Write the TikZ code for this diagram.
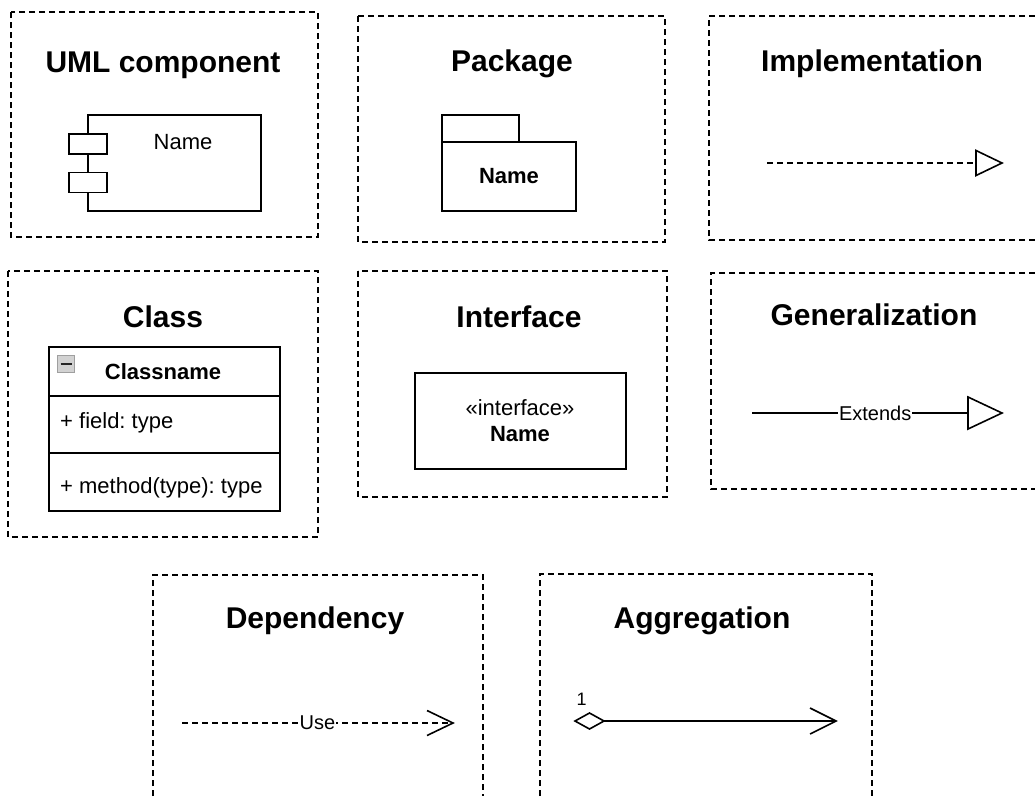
\documentclass[tikz,border=0pt]{standalone}
\usepackage{fontspec}
\setmainfont{Liberation Sans}
\frenchspacing
\begin{document}
\begin{tikzpicture}[x=1pt,y=1pt,
  panel/.style={black,line width=1.5pt,dash pattern=on 6pt off 4pt},
  dashline/.style={black,line width=1.4pt,dash pattern=on 6pt off 4pt},
  solidline/.style={black,line width=1.6pt},
  umlbox/.style={draw=black,line width=1.6pt,outer sep=0pt},
  title/.style={anchor=base,font=\fontsize{30}{36}\selectfont\bfseries},
  txt/.style={anchor=base,font=\fontsize{22}{26}\selectfont},
  txtb/.style={anchor=base,font=\fontsize{22}{26}\selectfont\bfseries},
  lbl/.style={fill=white,inner sep=1pt,font=\fontsize{20}{24}\selectfont}]
\tikzstyle{every node}+=[inner sep=0pt]
\useasboundingbox (0,0) rectangle (1035,-796);
% dashed frames
\draw [panel] (11,-12) rectangle (318,-237);
\draw [panel] (358,-16) rectangle (665,-242);
\draw [panel] (1035,-16) -- (709,-16) -- (709,-240) -- (1035,-240);
\draw [panel] (8,-271) rectangle (318,-537);
\draw [panel] (358,-271) rectangle (667,-497);
\draw [panel] (1035,-273) -- (711,-273) -- (711,-489) -- (1035,-489);
\draw [panel] (153,-796) -- (153,-575) -- (483,-575) -- (483,-796);
\draw [panel] (540,-796) -- (540,-574) -- (872,-574) -- (872,-796);
% titles
\node [title] (t-comp) at (163,-72) {UML component};
\node [title] (t-pkg) at (512,-71) {Package};
\node [title] (t-impl) at (872,-71) {Implementation};
\node [title] (t-cls) at (163,-327) {Class};
\node [title] (t-iface) at (519,-327) {Interface};
\node [title] (t-gen) at (874,-325) {Generalization};
\node [title] (t-dep) at (315,-628) {Dependency};
\node [title] (t-agg) at (702,-628) {Aggregation};
% component
\node [umlbox,minimum width=173pt,minimum height=96pt] (comp) at (174.5,-163) {};
\node [umlbox,fill=white,minimum width=38pt,minimum height=20pt] (port1) at (88,-144) {};
\node [umlbox,fill=white,minimum width=38pt,minimum height=20pt] (port2) at (88,-182.5) {};
\node [txt] (comp-name) at (183,-149) {Name};
% package
\node [umlbox,minimum width=134pt,minimum height=69pt,font=\fontsize{22}{26}\selectfont\bfseries] (pkg) at (509,-176.5) {Name};
\node [umlbox,minimum width=77pt,minimum height=27pt,anchor=south west] (pkg-tab) at (pkg.north west) {};
% implementation
\coordinate (impl-a) at (767,-163);
\coordinate (impl-b) at (976,-163);
\draw [dashline] (impl-a) -- (impl-b);
\draw [solidline] (impl-b) -- ++(0,12.5) -- ++(26,-12.5) -- ++(-26,-12.5) -- cycle;
% class
\node [umlbox,minimum width=231pt,minimum height=49pt] (cls-head) at (164.5,-371.5) {};
\node [umlbox,minimum width=231pt,minimum height=57pt,anchor=north] (cls-field) at (cls-head.south) {};
\node [umlbox,minimum width=231pt,minimum height=58pt,anchor=north] (cls-meth) at (cls-field.south) {};
\node [draw=gray!75,fill=gray!35,line width=0.8pt,minimum size=17pt] (cls-icon) at (66,-364) {};
\draw [black!85,line width=2.5pt] ([xshift=-5.5pt]cls-icon.center) -- ([xshift=5.5pt]cls-icon.center);
\node [txtb] (cls-name) at (163,-379) {Classname};
\node [txt,anchor=base west] (cls-f) at (60,-428) {+ field: type};
\node [txt,anchor=base west] (cls-m) at (60,-493) {+ method(type): type};
% interface
\node [umlbox,minimum width=211pt,minimum height=96pt] (iface) at (520.5,-421) {};
\node [txt] (iface-st) at (520,-415) {«interface»};
\node [txtb] (iface-name) at (520,-441) {Name};
% generalization
\coordinate (gen-a) at (752,-413);
\coordinate (gen-b) at (968,-413);
\draw [solidline] (gen-a) -- node [lbl,pos=0.57] (gen-lbl) {Extends} (gen-b);
\draw [solidline] (gen-b) -- ++(0,16) -- ++(34,-16) -- ++(-34,-16) -- cycle;
% dependency
\coordinate (dep-a) at (182,-723);
\coordinate (dep-b) at (453,-723);
\draw [dashline] (dep-a) -- node [lbl] (dep-lbl) {Use} (dep-b);
\draw [solidline] ([shift={(-26,12.5)}]dep-b) -- (dep-b) -- ([shift={(-26,-12.5)}]dep-b);
% aggregation
\coordinate (agg-a) at (575,-721);
\coordinate (agg-b) at (836,-721);
\draw [solidline] (agg-a) -- ++(14.5,8) -- ++(14.5,-8) coordinate (agg-c) -- ++(-14.5,-8) -- cycle;
\draw [solidline] (agg-c) -- (agg-b);
\draw [solidline] ([shift={(-26,13)}]agg-b) -- (agg-b) -- ([shift={(-26,-13)}]agg-b);
\node [anchor=base,font=\fontsize{18}{20}\selectfont] (agg-mult) at (581.5,-705) {1};
\end{tikzpicture}
\end{document}
